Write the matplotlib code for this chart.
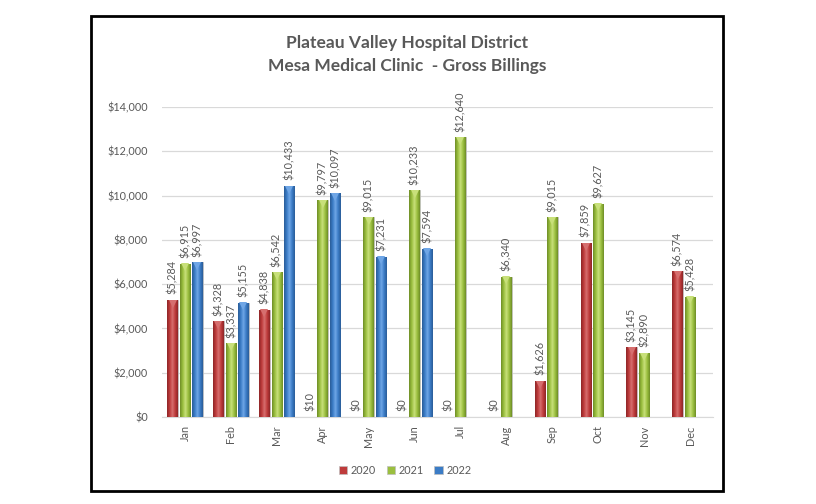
import matplotlib.pyplot as plt
import matplotlib.patches as mpatches
import matplotlib.transforms as mtransforms
import numpy as np
from matplotlib.colors import LinearSegmentedColormap
from matplotlib.ticker import FuncFormatter, MultipleLocator

months = ['Jan', 'Feb', 'Mar', 'Apr', 'May', 'Jun', 'Jul', 'Aug', 'Sep', 'Oct', 'Nov', 'Dec']
years = ['2020', '2021', '2022']
bill_2020 = [5284, 4328, 4838, 10, 0, 0, 0, 0, 1626, 7859, 3145, 6574]
bill_2021 = [6915, 3337, 6542, 9797, 9015, 10233, 12640, 6340, 9015, 9627, 2890, 5428]
bill_2022 = [6997, 5155, 10433, 10097, 7231, 7594, None, None, None, None, None, None]

series = [bill_2020, bill_2021, bill_2022]
# base, dark, light
colors = [('#BE3B3B', '#8E2627', '#D66F6F'),
          ('#9BBF3F', '#6E8E27', '#C8E07A'),
          ('#3B7CC6', '#2A5C98', '#6FA6E6')]

plt.rcParams['font.family'] = ['Lato', 'DejaVu Sans']
txt = '#595959'

fig = plt.figure(figsize=(8.16, 5.04), dpi=100)
ax = fig.add_axes([162/816, 1-417/504, (713-162)/816, (417-107)/504])

x = np.arange(len(months))
width = 0.23
step = 0.27
tip = mtransforms.offset_copy(ax.transData, fig=fig, x=0, y=-2.6, units='points')

for i, vals in enumerate(series):
    base, dark, light = colors[i]
    cmap = LinearSegmentedColormap.from_list('b%d' % i, [dark, base, light, base, dark])
    grad = np.linspace(0, 1, 64).reshape(1, -1)
    for j, v in enumerate(vals):
        if v is None:
            continue
        xc = x[j] + (i - 1) * step
        fc = base if v > 100 else '#E8E0E0'
        bar = ax.bar(xc, v, width, color=fc, edgecolor='#BFBFBF', linewidth=0.6, zorder=3)[0]
        if v > 100:
            im = ax.imshow(grad, cmap=cmap, aspect='auto', extent=(xc - width/2, xc + width/2, 0, v), zorder=3.5)
            im.set_clip_path(bar)
            # bevel tip inside the top of the bar
            ax.plot(xc, v, marker='v', markersize=5.5, color=light, markeredgewidth=0,
                    zorder=4, transform=tip)
        ax.text(xc, v + 250, '${:,}'.format(v), rotation=90, ha='center', va='bottom',
                fontsize=7.8, color=txt, zorder=5, clip_on=False)

ax.set_xlim(-0.5, 11.5)
ax.set_ylim(0, 14000)
ax.yaxis.set_major_locator(MultipleLocator(2000))
ax.yaxis.set_major_formatter(FuncFormatter(lambda v, p: '${:,.0f}'.format(v)))
ax.set_xticks(x)
ax.set_xticklabels(months, rotation=90)
ax.tick_params(axis='both', length=0, labelsize=7.8, colors=txt)
ax.tick_params(axis='y', pad=10)
ax.tick_params(axis='x', pad=6)
ax.grid(axis='y', color='#D9D9D9', linewidth=0.9, zorder=0)
ax.set_axisbelow(True)
for s in ['top', 'right', 'left']:
    ax.spines[s].set_visible(False)
ax.spines['bottom'].set_color('#D9D9D9')

fig.text(0.499, 1-43/504, 'Plateau Valley Hospital District', ha='center', va='center',
         fontsize=12.5, fontweight='bold', color=txt)
fig.text(0.499, 1-66/504, 'Mesa Medical Clinic  - Gross Billings', ha='center', va='center',
         fontsize=12.5, fontweight='bold', color=txt)

handles = [mpatches.Patch(facecolor=c[0], edgecolor='#BFBFBF', linewidth=0.5) for c in colors]
fig.legend(handles, years, loc='center', bbox_to_anchor=(405/816, 1-470/504), ncol=3,
           frameon=False, fontsize=7.8, labelcolor=txt, handlelength=0.8, handleheight=0.8,
           handletextpad=0.3, columnspacing=1.0)

border = mpatches.Rectangle((91/816, 1-491/504), (723-91)/816, (491-16)/504,
                            transform=fig.transFigure, fill=False, edgecolor='black', linewidth=2)
fig.patches.append(border)

fig.savefig('out.png', dpi=100)
